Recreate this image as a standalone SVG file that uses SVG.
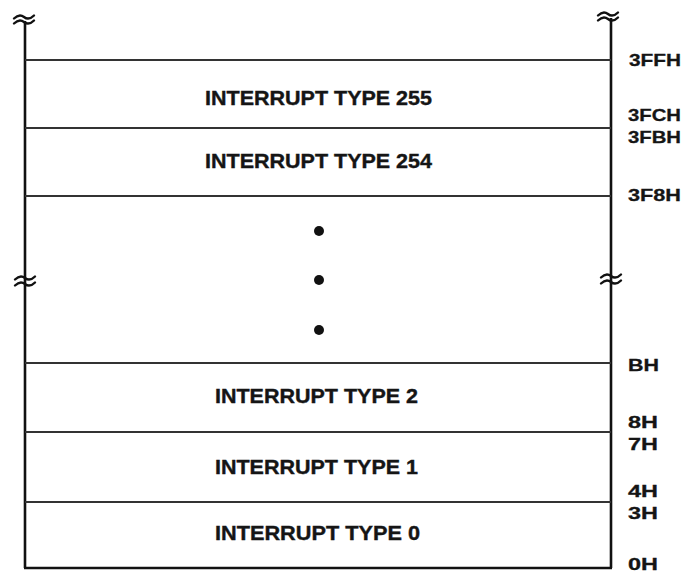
<svg xmlns="http://www.w3.org/2000/svg" width="685" height="574" viewBox="0 0 685 574">
<defs>
<style>
.frame{stroke:#111;stroke-width:2.6;fill:none}
.div{stroke:#333;stroke-width:2;fill:none}
.brk{stroke:#111;stroke-width:2.4;fill:none;stroke-linecap:round}
.lbl{font-family:"Liberation Sans",Arial,sans-serif;font-weight:bold;font-size:20.5px;fill:#151515;text-anchor:middle;stroke:#151515;stroke-width:0.4}
.addr{font-family:"Liberation Sans",Arial,sans-serif;font-weight:bold;font-size:17px;fill:#151515;stroke:#151515;stroke-width:0.3}
.dot{fill:#111}
</style>
<path id="tilde" d="M -10 1.5 C -6 -2.5, -3 -2.5, 0 0 S 6 2.5, 10 -1.5"/>
</defs>
<rect width="685" height="574" fill="#fff"/>
<g id="frame">
<line class="frame" x1="25" y1="21" x2="25" y2="568"/>
<line class="frame" x1="611" y1="18" x2="611" y2="568"/>
<line class="frame" x1="24" y1="568" x2="612" y2="568"/>
<g class="brk">
<use href="#tilde" x="24" y="17"/>
<use href="#tilde" x="24" y="22"/>
<use href="#tilde" x="608" y="14"/>
<use href="#tilde" x="608" y="19"/>
<use href="#tilde" x="25" y="278"/>
<use href="#tilde" x="25" y="284"/>
<use href="#tilde" x="611" y="276"/>
<use href="#tilde" x="611" y="282"/>
</g>
</g>
<g id="connectors">
<line class="div" x1="25" y1="60" x2="611" y2="60"/>
<line class="div" x1="25" y1="128" x2="611" y2="128"/>
<line class="div" x1="25" y1="196" x2="611" y2="196"/>
<line class="div" x1="25" y1="363" x2="611" y2="363"/>
<line class="div" x1="25" y1="432" x2="611" y2="432"/>
<line class="div" x1="25" y1="502" x2="611" y2="502"/>
</g>
<g id="type255"><text class="lbl" x="318.5" y="105" textLength="227" lengthAdjust="spacingAndGlyphs">INTERRUPT TYPE 255</text></g>
<g id="type254"><text class="lbl" x="318.5" y="168" textLength="227" lengthAdjust="spacingAndGlyphs">INTERRUPT TYPE 254</text></g>
<g id="ellipsis">
<circle class="dot" cx="319" cy="231" r="5"/>
<circle class="dot" cx="319" cy="280" r="5"/>
<circle class="dot" cx="319" cy="330" r="5"/>
</g>
<g id="type2"><text class="lbl" x="316.5" y="403" textLength="203" lengthAdjust="spacingAndGlyphs">INTERRUPT TYPE 2</text></g>
<g id="type1"><text class="lbl" x="316.5" y="474" textLength="203" lengthAdjust="spacingAndGlyphs">INTERRUPT TYPE 1</text></g>
<g id="type0"><text class="lbl" x="317.5" y="540" textLength="205" lengthAdjust="spacingAndGlyphs">INTERRUPT TYPE 0</text></g>
<g id="addresses">
<text class="addr" x="629" y="66" textLength="52" lengthAdjust="spacingAndGlyphs">3FFH</text>
<text class="addr" x="628" y="121" textLength="53" lengthAdjust="spacingAndGlyphs">3FCH</text>
<text class="addr" x="628" y="143" textLength="53" lengthAdjust="spacingAndGlyphs">3FBH</text>
<text class="addr" x="628" y="201" textLength="53" lengthAdjust="spacingAndGlyphs">3F8H</text>
<text class="addr" x="628" y="371" textLength="31" lengthAdjust="spacingAndGlyphs">BH</text>
<text class="addr" x="628" y="428" textLength="30" lengthAdjust="spacingAndGlyphs">8H</text>
<text class="addr" x="628" y="450" textLength="30" lengthAdjust="spacingAndGlyphs">7H</text>
<text class="addr" x="628" y="497" textLength="30" lengthAdjust="spacingAndGlyphs">4H</text>
<text class="addr" x="628" y="519" textLength="30" lengthAdjust="spacingAndGlyphs">3H</text>
<text class="addr" x="628" y="570" textLength="30" lengthAdjust="spacingAndGlyphs">0H</text>
</g>
</svg>
